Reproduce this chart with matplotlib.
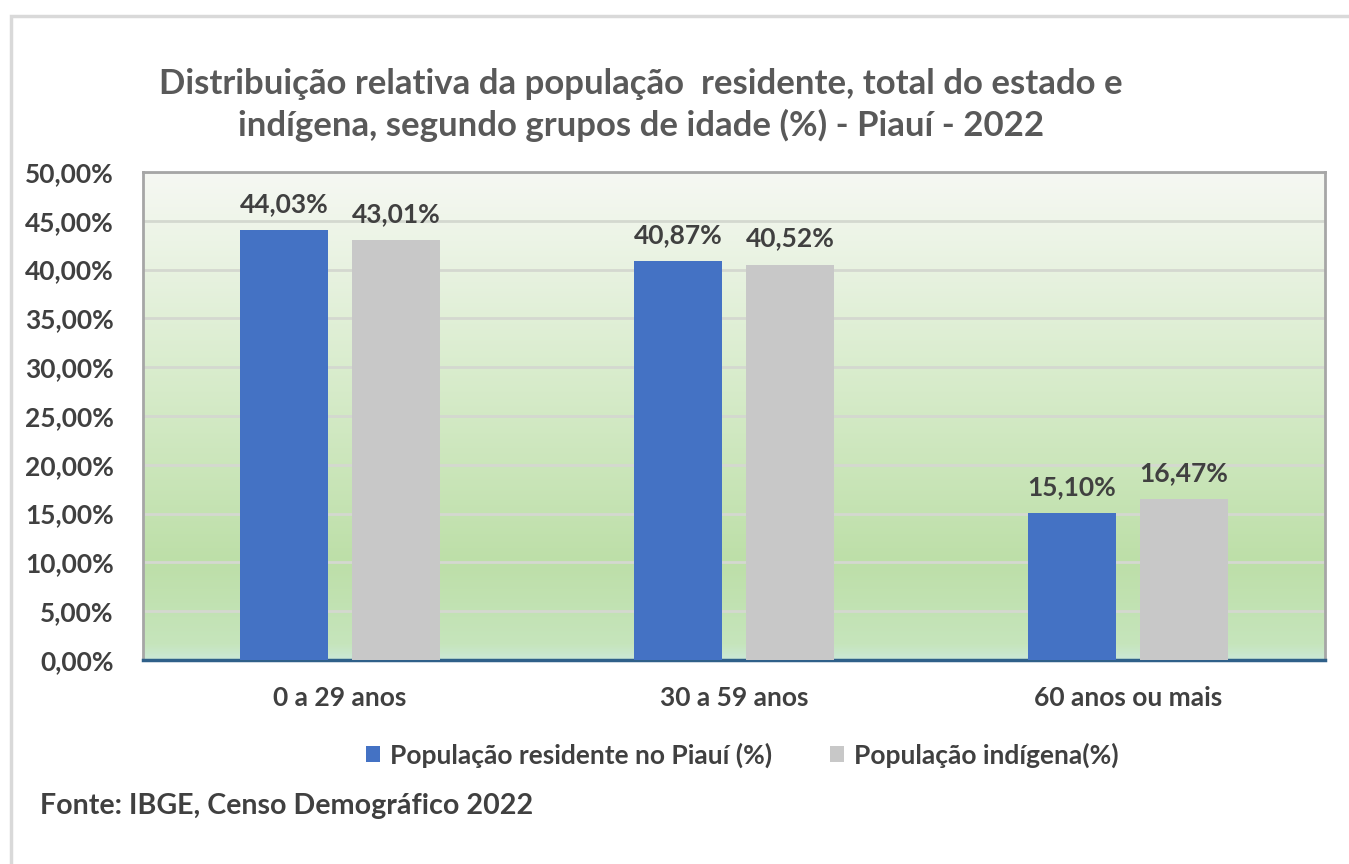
import numpy as np
import matplotlib
matplotlib.use("Agg")
from matplotlib import pyplot as plt
from matplotlib.colors import LinearSegmentedColormap
from matplotlib.patches import Rectangle
from matplotlib.ticker import MultipleLocator, FuncFormatter

categories = ["0 a 29 anos", "30 a 59 anos", "60 anos ou mais"]
piaui = [44.03, 40.87, 15.10]
indigena = [43.01, 40.52, 16.47]
series_names = ["População residente no Piauí (%)", "População indígena(%)"]

title = ("Distribuição relativa da população  residente, total do estado e\n"
         "indígena, segundo grupos de idade (%) - Piauí - 2022")
source = "Fonte: IBGE, Censo Demográfico 2022"

plt.rcParams["font.family"] = ["Lato", "DejaVu Sans"]
text_color = "#404040"
blue = "#4472c4"
gray = "#c8c8c8"

fig = plt.figure(figsize=(13.49, 8.64), dpi=100)
fig.patches.append(Rectangle((11 / 1349, -0.1), 1.1, 1 - 16 / 864 + 0.1,
                             transform=fig.transFigure, fill=False,
                             edgecolor="#d9d9d9", linewidth=2.5))

ax = fig.add_axes([143 / 1349, 204 / 864, 1182 / 1349, 488 / 864])

# gradient background like the Excel fill
bg = LinearSegmentedColormap.from_list(
    "bg", [(0.0, "#cbe8d6"), (0.03, "#c6e5bc"), (0.2, "#bddfa8"),
           (0.55, "#d6ebc9"), (1.0, "#f6f8f3")])
grad = np.linspace(0, 1, 256).reshape(-1, 1)
ax.imshow(grad, cmap=bg, aspect="auto", extent=[0, 1, 0, 1],
          transform=ax.transAxes, origin="lower", zorder=0)

x = np.arange(len(categories))
width = 0.223
offset = 0.142
b1 = ax.bar(x - offset, piaui, width, color=blue, label=series_names[0], zorder=3)
b2 = ax.bar(x + offset, indigena, width, color=gray, label=series_names[1], zorder=3)

for bars, vals in ((b1, piaui), (b2, indigena)):
    for rect, v in zip(bars, vals):
        ax.annotate(f"{v:.2f}%".replace(".", ","),
                    (rect.get_x() + rect.get_width() / 2, v),
                    xytext=(0, 10), textcoords="offset points",
                    ha="center", va="bottom", fontsize=19, fontweight="bold",
                    color=text_color, zorder=4)

ax.set_xlim(-0.5, 2.5)
ax.set_ylim(0, 50)
ax.yaxis.set_major_locator(MultipleLocator(5))
ax.yaxis.set_major_formatter(FuncFormatter(lambda v, p: f"{v:.2f}%".replace(".", ",")))
ax.grid(axis="y", color="#d4d8d0", linewidth=2, zorder=1)
ax.set_axisbelow(True)

ax.set_xticks(x)
ax.set_xticklabels(categories)
ax.tick_params(axis="both", length=0, labelsize=19, labelcolor=text_color)
ax.tick_params(axis="x", pad=19)
ax.tick_params(axis="y", pad=21)
for lbl in ax.get_xticklabels() + ax.get_yticklabels():
    lbl.set_fontweight("bold")

for side in ("top", "left", "right"):
    ax.spines[side].set_color("#a6a6a6")
    ax.spines[side].set_linewidth(2)
ax.spines["bottom"].set_color("#2f6089")
ax.spines["bottom"].set_linewidth(2.5)

fig.text(641 / 1349, 1 - 105 / 864, title, ha="center", va="center",
         fontsize=25, fontweight="bold", color="#595959", linespacing=1.32)

fig.legend(handles=[b1, b2], loc="center", bbox_to_anchor=(742 / 1349, 1 - 755 / 864),
           ncol=2, frameon=False, handlelength=0.55, handleheight=0.55,
           columnspacing=2.2, handletextpad=0.35,
           prop={"weight": "bold", "size": 19})
for t in fig.legends[0].get_texts():
    t.set_color(text_color)

fig.text(40 / 1349, 1 - 806 / 864, source, ha="left", va="center",
         fontsize=20.6, fontweight="bold", color=text_color)

fig.savefig("out.png", dpi=100)
